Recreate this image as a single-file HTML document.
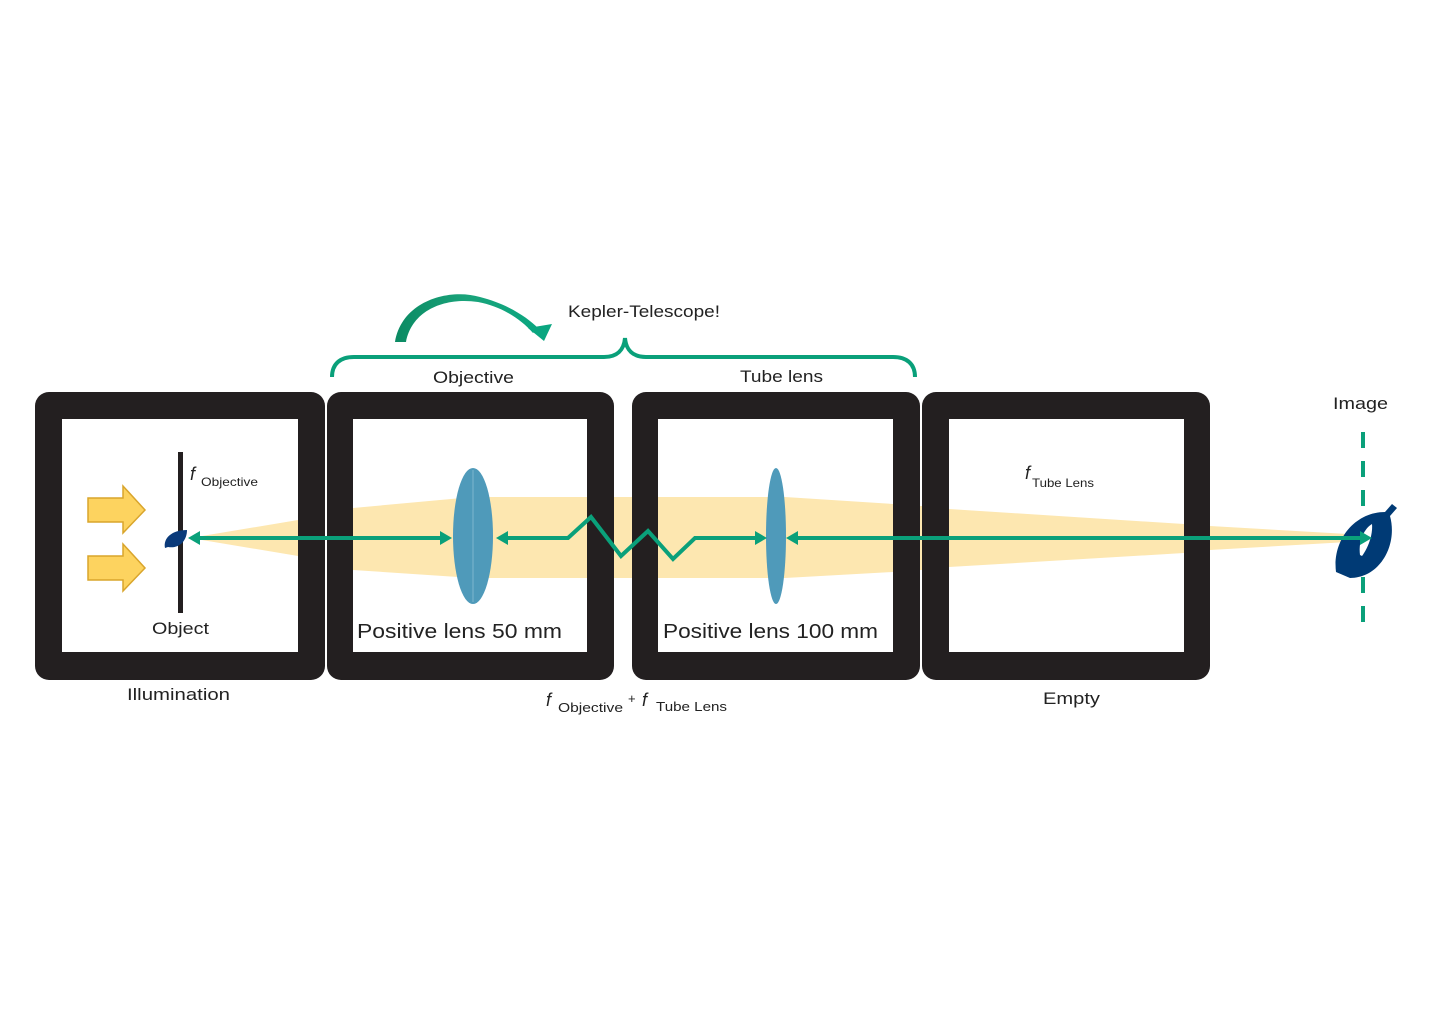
<!DOCTYPE html>
<html><head><meta charset="utf-8"><style>
html,body{margin:0;padding:0;background:#fff;}
svg{display:block;}
text{font-family:"Liberation Sans",sans-serif;fill:#222;}
</style></head><body>
<svg width="1441" height="1018" viewBox="0 0 1441 1018" xmlns="http://www.w3.org/2000/svg">
<defs>
<linearGradient id="ag" x1="0" x2="1" y1="0" y2="0">
<stop offset="0" stop-color="#0b8a63"/><stop offset="0.5" stop-color="#1aa37a"/><stop offset="1" stop-color="#0aa680"/>
</linearGradient>
</defs>
<g fill="#231f20">
<rect x="35" y="392" width="290" height="288" rx="14"/>
<rect x="327" y="392" width="287" height="288" rx="14"/>
<rect x="632" y="392" width="288" height="288" rx="14"/>
<rect x="922" y="392" width="288" height="288" rx="14"/>
</g>
<g fill="#fff">
<rect x="62" y="419" width="236" height="233"/>
<rect x="353" y="419" width="234" height="233"/>
<rect x="658" y="419" width="235" height="233"/>
<rect x="949" y="419" width="235" height="233"/>
</g>
<g fill="#fde7b0">
<polygon points="190,538 298,520 298,556"/>
<polygon points="353,508 473,497 473,578 353,570"/>
<polygon points="473,497 587,497 587,578 473,578"/>
<rect x="614" y="497" width="18" height="81"/>
<polygon points="658,497 785,497 893,504 893,572 785,578 658,578"/>
<rect x="920" y="506" width="2" height="64"/>
<polygon points="949,509 1184,524 1184,553 949,567"/>
<polygon points="1210,526 1365,535 1365,541 1210,550"/>
</g>
<ellipse cx="473" cy="536" rx="20" ry="68" fill="#4f9aba"/>
<line x1="473" y1="470" x2="473" y2="602" stroke="#7db6cd" stroke-width="1"/>
<ellipse cx="776" cy="536" rx="10" ry="68" fill="#4f9aba"/>
<rect x="178" y="452" width="5" height="161" fill="#231f20"/>
<g fill="#fdd35f" stroke="#d9a52c" stroke-width="1.5">
<polygon points="88,498 123,498 123,486 145,510 123,533 123,522 88,522"/>
<polygon points="88,556 123,556 123,544 145,568 123,591 123,580 88,580"/>
</g>
<g stroke="#0aa07a" stroke-width="4" fill="none">
<line x1="196" y1="538" x2="444" y2="538"/>
<polyline points="506,538 568,538 591,517 621,556 648,531 673,559 695,538 758,538"/>
<line x1="796" y1="538" x2="1356" y2="538"/>
</g>
<g fill="#0aa07a">
<polygon points="188,538 200,531 200,545"/>
<polygon points="452,538 440,531 440,545"/>
<polygon points="496,538 508,531 508,545"/>
<polygon points="767,538 755,531 755,545"/>
<polygon points="786,538 798,531 798,545"/>
</g>
<path d="M165,548 C163,538 172,530 187,530 C187,541 179,549 168,547 Z" fill="#0a3a7a"/>
<line x1="1363" y1="432" x2="1363" y2="628" stroke="#0aa07a" stroke-width="4" stroke-dasharray="16,13"/>
<path d="M1336,572 C1332,540 1355,512 1385,512 L1392,504 L1397,508 L1390,516 C1398,545 1380,578 1350,578 Z" fill="#003a75"/>
<path d="M1360,555 C1358,540 1365,528 1372,524 C1373,535 1368,548 1362,556 Z" fill="#fff"/>
<line x1="1340" y1="538" x2="1363" y2="538" stroke="#0aa07a" stroke-width="4"/>
<polygon points="1372,538 1360,531 1360,545" fill="#0aa07a"/>
<path d="M332,377 C332,364 340,357 354,357 L604,357 C617,357 624,350 625,338 C626,350 633,357 646,357 L893,357 C907,357 915,364 915,377" stroke="#0aa07a" stroke-width="4" fill="none"/>
<path d="M395,342 C402,300 450,288 480,297 C508,304 528,318 538,328 L533,333 C520,318 500,306 478,302 C445,297 412,310 406,342 Z" fill="url(#ag)"/>
<polygon points="528,328 552,324 544,341" fill="#0aa680"/>
<text x="568" y="317" font-size="17" textLength="152" lengthAdjust="spacingAndGlyphs">Kepler-Telescope!</text>
<text x="433" y="383" font-size="17" textLength="81" lengthAdjust="spacingAndGlyphs">Objective</text>
<text x="740" y="382" font-size="17" textLength="83" lengthAdjust="spacingAndGlyphs">Tube lens</text>
<text x="1333" y="409" font-size="17" textLength="55" lengthAdjust="spacingAndGlyphs">Image</text>
<text x="190" y="480" font-size="18" font-style="italic">f</text>
<text x="201" y="486" font-size="12" textLength="57" lengthAdjust="spacingAndGlyphs">Objective</text>
<text x="1025" y="479" font-size="18" font-style="italic">f</text>
<text x="1032" y="487" font-size="12" textLength="62" lengthAdjust="spacingAndGlyphs">Tube Lens</text>
<text x="152" y="634" font-size="17" textLength="57" lengthAdjust="spacingAndGlyphs">Object</text>
<text x="357" y="638" font-size="20" textLength="205" lengthAdjust="spacingAndGlyphs">Positive lens 50 mm</text>
<text x="663" y="638" font-size="20" textLength="215" lengthAdjust="spacingAndGlyphs">Positive lens 100 mm</text>
<text x="127" y="700" font-size="17" textLength="103" lengthAdjust="spacingAndGlyphs">Illumination</text>
<text x="1043" y="704" font-size="17" textLength="57" lengthAdjust="spacingAndGlyphs">Empty</text>
<text x="546" y="706" font-size="18" font-style="italic">f</text>
<text x="558" y="712" font-size="13" textLength="65" lengthAdjust="spacingAndGlyphs">Objective</text>
<text x="628" y="703" font-size="13">+</text>
<text x="642" y="706" font-size="18" font-style="italic">f</text>
<text x="656" y="711" font-size="13" textLength="71" lengthAdjust="spacingAndGlyphs">Tube Lens</text>
</svg>
</body></html>
